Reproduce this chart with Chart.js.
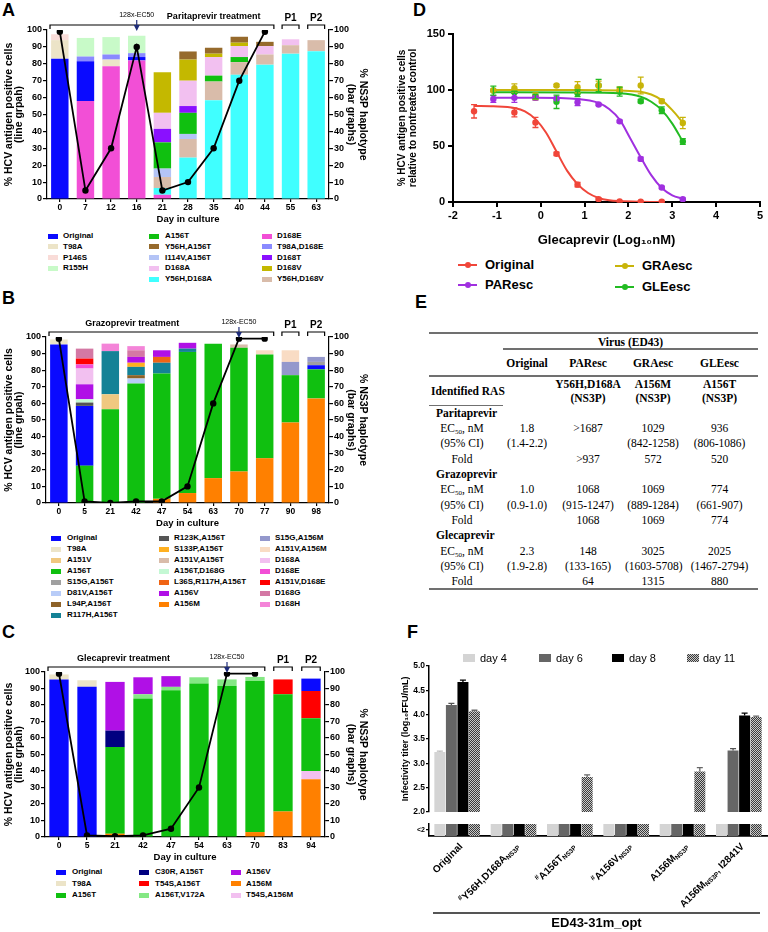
<!DOCTYPE html>
<html>
<head>
<meta charset="utf-8">
<title>NS3P haplotypes and glecaprevir susceptibility</title>
<script src="https://cdn.jsdelivr.net/npm/chart.js@4.4.1/dist/chart.umd.min.js"></script>
<style>
  body { margin: 0; background: #fff; }
  #page { position: relative; width: 768px; height: 932px; overflow: hidden; font-family: "Liberation Sans", Arial, sans-serif; color: #000; }
  #page canvas { position: absolute; }
  .tag { position: absolute; font-size: 18px; font-weight: bold; line-height: 18px; }
  .lg { position: absolute; font-size: 8px; font-weight: bold; line-height: 10px; white-space: nowrap; }
  .lg i { position: absolute; left: 0; top: 2.5px; width: 10px; height: 5px; }
  .dl { position: absolute; font-size: 13px; font-weight: bold; line-height: 14px; white-space: nowrap; padding-left: 27px; }
  .dl i { position: absolute; left: 0; top: 6px; width: 19px; height: 2px; }
  .dl b { position: absolute; left: 6.5px; top: 4px; width: 6px; height: 6px; border-radius: 50%; }
  .fl { position: absolute; font-size: 11px; line-height: 12px; white-space: nowrap; }
  .fl i { position: absolute; left: 0; top: 2px; width: 12px; height: 8px; }
  .rule { position: absolute; background: #707070; }
  #tabE { position: absolute; left: 429px; top: 334px; width: 329px; border-collapse: collapse; table-layout: fixed;
          font-family: "Liberation Serif", "Times New Roman", serif; font-size: 11.5px; }
  #tabE td { padding: 0; text-align: center; white-space: nowrap; line-height: 14px; }
  #tabE .hd { font-weight: bold; }
  #tabE .sec { font-weight: bold; text-align: left; padding-left: 7px; }
  #tabE .lab { padding-right: 8px; }
  #tabE tr.r { height: 15.33px; }
  #tabE sub { font-size: 7px; line-height: 0; vertical-align: -2px; }
</style>
</head>
<body>
<div id="page">
  <div class="tag" style="left:2px;top:1px">A</div>
  <div class="tag" style="left:2px;top:289px">B</div>
  <div class="tag" style="left:2px;top:623px">C</div>
  <div class="tag" style="left:413px;top:1px">D</div>
  <div class="tag" style="left:415px;top:293px">E</div>
  <div class="tag" style="left:407px;top:623px">F</div>

  <canvas id="chartA" width="380" height="230" style="left:0;top:0"></canvas>
  <canvas id="chartB" width="380" height="228" style="left:0;top:305px"></canvas>
  <canvas id="chartC" width="380" height="226" style="left:0;top:640px"></canvas>
  <canvas id="chartD" width="388" height="252" style="left:380px;top:0"></canvas>
  <canvas id="chartF" width="388" height="173" style="left:380px;top:645px"></canvas>
  <canvas id="chartF2" width="388" height="116" style="left:380px;top:816px"></canvas>

  <div id="legends"></div>

  <div class="dl" style="left:458px;top:258px;color:#000"><i style="background:#f0463a"></i><b style="background:#f0463a"></b>Original</div>
  <div class="dl" style="left:458px;top:278px"><i style="background:#a030e0"></i><b style="background:#a030e0"></b>PAResc</div>
  <div class="dl" style="left:615px;top:259px"><i style="background:#c8b40a"></i><b style="background:#c8b40a"></b>GRAesc</div>
  <div class="dl" style="left:615px;top:280px"><i style="background:#22bb22"></i><b style="background:#22bb22"></b>GLEesc</div>

  <div class="rule" style="left:429px;top:332px;width:329px;height:2px"></div>
  <div class="rule" style="left:503px;top:348px;width:255px;height:2px"></div>
  <div class="rule" style="left:429px;top:375px;width:329px;height:1.5px"></div>
  <div class="rule" style="left:429px;top:404.5px;width:74px;height:1px"></div>
  <div class="rule" style="left:429px;top:588px;width:329px;height:2px"></div>
  <table id="tabE">
    <colgroup><col style="width:74px"><col style="width:48px"><col style="width:74px"><col style="width:56px"><col style="width:77px"></colgroup>
    <tr style="height:15px"><td></td><td colspan="4" class="hd">Virus (ED43)</td></tr>
    <tr style="height:27px"><td></td><td class="hd">Original</td><td class="hd">PAResc</td><td class="hd">GRAesc</td><td class="hd">GLEesc</td></tr>
    <tr style="height:29px"><td class="hd" style="text-align:left;padding-left:2px">Identified RAS</td><td></td><td class="hd">Y56H,D168A<br>(NS3P)</td><td class="hd">A156M<br>(NS3P)</td><td class="hd">A156T<br>(NS3P)</td></tr>
    <tr class="r"><td class="sec">Paritaprevir</td><td></td><td></td><td></td><td></td></tr>
    <tr class="r"><td class="lab">EC<sub>50</sub>, nM</td><td>1.8</td><td>&gt;1687</td><td>1029</td><td>936</td></tr>
    <tr class="r"><td class="lab">(95% CI)</td><td>(1.4-2.2)</td><td></td><td>(842-1258)</td><td>(806-1086)</td></tr>
    <tr class="r"><td class="lab">Fold</td><td></td><td>&gt;937</td><td>572</td><td>520</td></tr>
    <tr class="r"><td class="sec">Grazoprevir</td><td></td><td></td><td></td><td></td></tr>
    <tr class="r"><td class="lab">EC<sub>50</sub>, nM</td><td>1.0</td><td>1068</td><td>1069</td><td>774</td></tr>
    <tr class="r"><td class="lab">(95% CI)</td><td>(0.9-1.0)</td><td>(915-1247)</td><td>(889-1284)</td><td>(661-907)</td></tr>
    <tr class="r"><td class="lab">Fold</td><td></td><td>1068</td><td>1069</td><td>774</td></tr>
    <tr class="r"><td class="sec">Glecaprevir</td><td></td><td></td><td></td><td></td></tr>
    <tr class="r"><td class="lab">EC<sub>50</sub>, nM</td><td>2.3</td><td>148</td><td>3025</td><td>2025</td></tr>
    <tr class="r"><td class="lab">(95% CI)</td><td>(1.9-2.8)</td><td>(133-165)</td><td>(1603-5708)</td><td>(1467-2794)</td></tr>
    <tr class="r"><td class="lab">Fold</td><td></td><td>64</td><td>1315</td><td>880</td></tr>
  </table>

  <div class="fl" style="left:463px;top:652px;padding-left:17px"><i style="background:#d4d4d4"></i>day 4</div>
  <div class="fl" style="left:539px;top:652px;padding-left:17px"><i style="background:#666"></i>day 6</div>
  <div class="fl" style="left:612px;top:652px;padding-left:17px"><i style="background:#000"></i>day 8</div>
  <div class="fl" style="left:687px;top:652px;padding-left:16px"><i style="background:repeating-conic-gradient(#3a3a3a 0 25%, #c8c8c8 0 50%) 0 0/2px 2px"></i>day 11</div>

  <div class="rule" style="left:433px;top:912px;width:327px;height:1.5px;background:#555"></div>
  <div style="position:absolute;left:433px;top:916px;width:327px;text-align:center;font-size:13px;font-weight:bold;line-height:14px">ED43-31m_opt</div>
</div>

<script>
// ---- A: paritaprevir escape (stack order bottom -> top) ----
const parDays = ['0', '7', '12', '16', '21', '28', '35', '40', '44', '55', '63'];
const parPositive = [99, 5, 30, 90, 5, 10, 30, 70, 99, null, null];
const parHaplotypes = ['D168E', 'Original', 'T98A', 'P146S', 'T98A,D168E', 'R155H', 'Y56H,D168A', 'Y56H,D168V',
  'I114V,A156T', 'A156T', 'D168T', 'D168A', 'D168V', 'Y56H,A156T'];
const parShares = [
  [0, 58, 78.5, 82, 2.5, 0, 0, 0, 0, 0, 0],
  [83, 23.5, 0, 2, 0, 0, 0, 0, 0, 0, 0],
  [11, 0, 4, 0, 0, 0, 0, 0, 0, 0, 0],
  [3.5, 0, 0, 0, 0, 0, 0, 0, 0, 0, 0],
  [0, 2.8, 3, 2.3, 0, 0, 0, 0, 0, 0, 0],
  [0, 11, 10.3, 10.3, 0, 0, 0, 0, 0, 0, 0],
  [0, 0, 0, 0, 4, 24.5, 58.5, 73.5, 79.5, 86, 87.5],
  [0, 0, 0, 0, 6.5, 11, 11, 7.5, 6, 5, 6.5],
  [0, 0, 0, 0, 5, 3, 0, 0, 0, 0, 0],
  [0, 0, 0, 0, 15.5, 12.5, 3.5, 3, 0, 0, 0],
  [0, 0, 0, 0, 8, 4, 0, 0, 0, 0, 0],
  [0, 0, 0, 0, 9.5, 15, 11, 6.5, 5, 3.5, 0],
  [0, 0, 0, 0, 24, 12.5, 2, 2, 0, 0, 0],
  [0, 0, 0, 0, 0, 4.8, 3.5, 3.5, 2.5, 0, 0]
];
const parLegend = [
  ['Original', 'T98A', 'P146S', 'R155H'],
  ['A156T', 'Y56H,A156T', 'I114V,A156T', 'D168A', 'Y56H,D168A'],
  ['D168E', 'T98A,D168E', 'D168T', 'D168V', 'Y56H,D168V']
];

// ---- B: grazoprevir escape ----
const graDays = ['0', '5', '21', '42', '47', '54', '63', '70', '77', '90', '98'];
const graPositive = [99, 1, 0, 1, 1, 10, 60, 99, 99, null, null];
const graHaplotypes = ['A156M', 'A156T', 'Original', 'T98A', 'R123K,A156T', 'A156T,D168G', 'A151V', 'D81V,A156T',
  'L94P,A156T', 'R117H,A156T', 'L36S,R117H,A156T', 'S133P,A156T', 'A156V', 'D168A', 'D168E', 'A151V,D168E',
  'D168G', 'D168H', 'A151V,A156T', 'S15G,A156T', 'S15G,A156M', 'A151V,A156M'];
const graShares = [
  [0, 0, 0, 0, 2.5, 6, 15, 19, 27, 48.5, 63],
  [0, 22.5, 56.5, 72, 75.5, 85, 81, 74.5, 62.5, 28.5, 17.5],
  [95.5, 36, 0, 0, 0, 0, 0, 0, 0, 0, 2.5],
  [3, 0, 0, 0, 0, 0, 0, 0, 0, 0, 0],
  [0, 2, 0, 0, 0, 0, 0, 0, 0, 0, 0],
  [0, 2, 0, 0, 0, 0, 0, 0, 0, 0, 0],
  [0, 0, 9, 0, 0, 0, 0, 0, 0, 0, 0],
  [0, 0, 0, 3, 0, 0, 0, 0, 0, 0, 0],
  [0, 0, 0, 2, 0, 0, 0, 0, 0, 0, 0],
  [0, 0, 26, 5, 6.5, 2, 0, 0, 0, 0, 0],
  [0, 0, 0, 0, 3.5, 0, 0, 0, 0, 0, 0],
  [0, 0, 0, 2.5, 0, 0, 0, 0, 0, 0, 0],
  [0, 9, 0, 3.5, 4, 3.5, 0, 0, 0, 0, 0],
  [0, 9.5, 0, 0, 0, 0, 0, 0, 0, 0, 0],
  [0, 2.5, 0, 0, 0, 0, 0, 0, 0, 0, 0],
  [0, 3.5, 0, 0, 0, 0, 0, 0, 0, 0, 0],
  [0, 6, 0, 4, 0, 0, 0, 0, 0, 0, 0],
  [0, 0, 4.5, 2.5, 0, 0, 0, 0, 0, 0, 0],
  [0, 0, 0, 0, 0, 0, 0, 2, 0, 0, 0],
  [0, 0, 0, 0, 0, 0, 0, 0, 0, 0, 2],
  [0, 0, 0, 0, 0, 0, 0, 0, 0, 8, 3],
  [0, 0, 0, 0, 0, 0, 0, 0, 2.5, 7, 0]
];
const graLegend = [
  ['Original', 'T98A', 'A151V', 'A156T', 'S15G,A156T', 'D81V,A156T', 'L94P,A156T', 'R117H,A156T'],
  ['R123K,A156T', 'S133P,A156T', 'A151V,A156T', 'A156T,D168G', 'L36S,R117H,A156T', 'A156V', 'A156M'],
  ['S15G,A156M', 'A151V,A156M', 'D168A', 'D168E', 'A151V,D168E', 'D168G', 'D168H']
];

// ---- C: glecaprevir escape ----
const gleDays = ['0', '5', '21', '42', '47', '54', '63', '70', '83', '94'];
const glePositive = [99, 1, 0.5, 1, 5, 30, 99, 99, null, null];
const gleHaplotypes = ['A156M', 'T54S,A156M', 'A156T', 'C30R, A156T', 'A156T,V172A', 'A156V', 'T54S,A156T', 'Original', 'T98A'];
const gleShares = [
  [0, 0, 2, 0, 0, 0, 0, 3, 15.5, 35],
  [0, 0, 0, 0, 0, 0, 0, 0, 0, 5],
  [0, 0, 52.5, 84, 89, 93, 91.5, 91.5, 71, 32],
  [0, 0, 10, 0, 0, 0, 0, 0, 0, 0],
  [0, 0, 0, 2.5, 2, 3.8, 4, 2.5, 0, 0],
  [0, 0, 29.5, 10.3, 6.5, 0, 0, 0, 0, 0],
  [0, 0, 0, 0, 0, 0, 0, 0, 9, 16.5],
  [95.5, 91, 0, 0, 0, 0, 0, 0, 0, 7.5],
  [3, 4, 0, 0, 0, 0, 0, 0, 0, 0]
];
const gleLegend = [
  ['Original', 'T98A', 'A156T'],
  ['C30R, A156T', 'T54S,A156T', 'A156T,V172A'],
  ['A156V', 'A156M', 'T54S,A156M']
];

// ---- D: glecaprevir dose response (x = log10 nM) ----
const origX = [-1.52, -0.6, -0.12, 0.36, 0.84, 1.32, 1.8, 2.28, 2.76];
const origY = [81, 80, 71, 43, 15.5, 2.5, 0.5, 0.2, 0.2];
const origErr = [6, 4, 4.5, 1.5, 2, 1, 0.5, 0.5, 0.5];
const origCurveX = [-1.52, -1.08, -0.6, -0.36, -0.12, 0.12, 0.36, 0.6, 0.84, 1.08, 1.32, 1.56, 1.8, 2.28, 2.76];
const origCurveY = [85.8, 85.5, 84, 81, 74, 62, 45, 28, 16, 8, 3.6, 1.6, 0.8, 0.2, 0];
const escX = [-1.08, -0.6, -0.12, 0.36, 0.84, 1.32, 1.8, 2.28, 2.76, 3.24];
const parescY = [92, 93, 93, 92.5, 89, 87, 72, 38.5, 13, 2.4];
const parescErr = [3, 4, 2, 1, 3, 1, 1, 1.5, 1, 1];
const parescCurveX = [-1.08, -0.12, 0.84, 1.32, 1.56, 1.8, 2.04, 2.28, 2.52, 2.76, 3.0, 3.24];
const parescCurveY = [93, 93, 92, 88.5, 83, 73.5, 57, 40, 24, 12.5, 6, 2.8];
const graescY = [99.5, 101.5, 94.5, 104, 102.5, 104, 100.5, 104, 90, 70.5];
const graescErr = [1, 4, 3, 1, 5, 4, 2, 7.5, 1.5, 5];
const lateCurveX = [-1.08, 0.84, 1.8, 2.28, 2.52, 2.76, 3.0, 3.24];
const graescCurveY = [100, 100, 99.5, 98.5, 96, 91, 82, 71];
const gleescY = [99.5, 98, 94, 89.5, 97, 104, 98.5, 90, 82, 54];
const gleescErr = [4, 1, 2, 6, 3, 5.5, 4, 1.5, 3, 2.5];
const gleescCurveY = [98, 97.8, 97, 94, 89.5, 82, 70, 54];

// ---- F: infectivity titers (null = below detection, <2) ----
const fLabels = [
  [['Original', '']],
  [['#', 'sup'], ['Y56H,D168A', ''], ['NS3P', 'sub']],
  [['#', 'sup'], ['A156T', ''], ['NS3P', 'sub']],
  [['#', 'sup'], ['A156V', ''], ['NS3P', 'sub']],
  [['A156M', ''], ['NS3P', 'sub']],
  [['A156M', ''], ['NS3P', 'sub'], [', I2841V', '']]
];
const fDays = ['day 4', 'day 6', 'day 8', 'day 11'];
const fDay4 = [3.23, null, null, null, null, null];
const fDay6 = [4.2, null, null, null, null, 3.26];
const fDay8 = [4.67, null, null, null, null, 3.98];
const fDay11 = [4.07, null, 2.72, null, 2.83, 3.95];
const fDay4Err = [0.02, null, null, null, null, null];
const fDay6Err = [0.03, null, null, null, null, 0.04];
const fDay8Err = [0.04, null, null, null, null, 0.05];
const fDay11Err = [0.02, null, 0.04, null, 0.08, 0.02];
const fBreakStrip = [1, 1, 1, 1, 1, 1];

const haploColors = {
  'Original': '#0a0aff', 'T98A': '#ece4c8', 'P146S': '#f9dcd8', 'R155H': '#c8fac8',
  'A156T': '#10c010', 'Y56H,A156T': '#966a2c', 'I114V,A156T': '#b4c4f6', 'D168A': '#f2c0f0',
  'Y56H,D168A': '#40ffff', 'D168E': '#f24fd6', 'T98A,D168E': '#8a8aff', 'D168T': '#8a10ff',
  'D168V': '#c4b800', 'Y56H,D168V': '#d9bcaa',
  'A151V': '#f0c880', 'S15G,A156T': '#a0a0a0', 'D81V,A156T': '#b8ccf8', 'L94P,A156T': '#8e6228',
  'R117H,A156T': '#148296', 'R123K,A156T': '#555555', 'S133P,A156T': '#ffb020', 'A151V,A156T': '#d9bcaa',
  'A156T,D168G': '#c4f8d4', 'L36S,R117H,A156T': '#f06414', 'A156V': '#b010e6', 'A156M': '#ff8000',
  'S15G,A156M': '#9498cc', 'A151V,A156M': '#f9dcc4', 'D168G': '#d478a4', 'D168H': '#f484d8',
  'A151V,D168E': '#ff0000', 'C30R, A156T': '#000080', 'T54S,A156T': '#ff0000', 'A156T,V172A': '#84e884',
  'T54S,A156M': '#f2c0f0'
};

Chart.defaults.font.family = '"Liberation Sans", Arial, sans-serif';
Chart.defaults.color = '#000';
Chart.defaults.animation = false;
Chart.defaults.plugins.legend.display = false;
Chart.defaults.plugins.tooltip.enabled = false;

function bracket(ctx, x0, x1, y) {
  ctx.beginPath();
  ctx.moveTo(x0, y + 4); ctx.lineTo(x0, y); ctx.lineTo(x1, y); ctx.lineTo(x1, y + 4);
  ctx.stroke();
}

// treatment bracket, P1/P2 and the 128x-EC50 arrow above the bars
const treatPlugin = {
  id: 'treat',
  afterDraw(chart, args, o) {
    if (!o || !o.label) return;
    const ctx = chart.ctx, xs = chart.scales.x, top = chart.chartArea.top;
    const step = xs.getPixelForValue(1) - xs.getPixelForValue(0);
    const by = top - 5;
    ctx.save();
    ctx.strokeStyle = '#000';
    ctx.lineWidth = 1.2;
    ctx.fillStyle = '#000';
    ctx.textAlign = 'center';
    ctx.textBaseline = 'middle';
    bracket(ctx, chart.chartArea.left + 3, xs.getPixelForValue(o.treatEnd) + step * 0.35, by);
    ctx.font = 'bold 9px "Liberation Sans", Arial';
    ctx.fillText(o.label, xs.getPixelForValue(o.textAt), by - 8);
    ctx.font = 'bold 10px "Liberation Sans", Arial';
    o.passages.forEach((p, k) => {
      const c = xs.getPixelForValue(o.treatEnd + 1 + k);
      bracket(ctx, c - step * 0.33, c + step * 0.33, by);
      ctx.fillText(p, c, by - 7);
    });
    const ax = xs.getPixelForValue(o.arrowAt);
    ctx.font = '7px "Liberation Sans", Arial';
    ctx.fillText('128x-EC50', ax, top - 15);
    ctx.strokeStyle = ctx.fillStyle = '#1f2d7a';
    ctx.beginPath(); ctx.moveTo(ax, top - 10); ctx.lineTo(ax, top - 4); ctx.stroke();
    ctx.beginPath(); ctx.moveTo(ax - 3, top - 5); ctx.lineTo(ax + 3, top - 5); ctx.lineTo(ax, top + 1); ctx.closePath(); ctx.fill();
    ctx.restore();
  }
};

// error bars for datasets that carry an `errors` array
const errPlugin = {
  id: 'errbars',
  afterDatasetsDraw(chart) {
    const ctx = chart.ctx;
    chart.data.datasets.forEach((ds, i) => {
      if (!ds.errors) return;
      const meta = chart.getDatasetMeta(i);
      const ys = chart.scales[meta.yAxisID];
      ctx.save();
      ctx.strokeStyle = ds.errColor || ds.borderColor;
      ctx.lineWidth = 1.3;
      meta.data.forEach((el, j) => {
        const e = ds.errors[j];
        const raw = ds.data[j];
        const v = raw !== null && typeof raw === 'object' ? raw.y : raw;
        if (e == null || v == null) return;
        const x = el.x, yTop = ys.getPixelForValue(v + e);
        const yBot = ds.errUpOnly ? el.y : ys.getPixelForValue(v - e);
        ctx.beginPath();
        ctx.moveTo(x, yBot); ctx.lineTo(x, yTop);
        ctx.moveTo(x - 3, yTop); ctx.lineTo(x + 3, yTop);
        if (!ds.errUpOnly) { ctx.moveTo(x - 3, yBot); ctx.lineTo(x + 3, yBot); }
        ctx.stroke();
      });
      ctx.restore();
    });
  }
};
Chart.register(treatPlugin, errPlugin);

const axisLine = { color: '#000', width: 1.2 };
const tickMarks = { drawOnChartArea: false, color: '#000', lineWidth: 1.2, tickLength: 4 };

function haploChart(id, days, names, shares, positive, notes, box) {
  const canvas = document.getElementById(id);
  const W = canvas.width, H = canvas.height;
  const bars = names.map((n, k) => ({
    type: 'bar', label: n, data: shares[k], backgroundColor: haploColors[n],
    yAxisID: 'y2', stack: 'hap', order: 1, barPercentage: box.barPct, categoryPercentage: 1
  }));
  const line = {
    type: 'line', label: '% antigen positive', data: positive, yAxisID: 'y', order: 0,
    borderColor: '#000', borderWidth: 1.8, pointRadius: 3.2, pointBackgroundColor: '#000', pointBorderWidth: 0
  };
  const tickFont = { size: 9, weight: 'bold' };
  return new Chart(canvas, {
    type: 'bar',
    data: { labels: days, datasets: [line, ...bars] },
    options: {
      responsive: false,
      layout: { padding: { top: box.top, left: 0, right: 0, bottom: 0 } },
      plugins: { treat: notes },
      scales: {
        x: {
          stacked: true, offset: true,
          grid: { ...tickMarks, offset: false, tickLength: 3 }, border: axisLine,
          ticks: { font: { size: 8.5, weight: 'bold' }, padding: 1, maxRotation: 0 },
          title: { display: true, text: 'Day in culture', font: { size: 9.5, weight: 'bold' }, padding: { top: 0, bottom: box.titlePad } },
          afterFit: s => { s.height = H - box.bottom; }
        },
        y: {
          position: 'left', min: 0, max: 100,
          ticks: { stepSize: 10, font: tickFont, padding: 1 }, grid: tickMarks, border: axisLine,
          title: { display: true, text: ['% HCV antigen positive cells', '(line grpah)'],
                   font: { size: 10.5, weight: 'bold', lineHeight: 0.95 }, padding: { top: 4, bottom: 0 } },
          afterFit: s => { s.width = box.left; }
        },
        y2: {
          position: 'right', stacked: true, min: 0, max: 100,
          ticks: { stepSize: 10, font: tickFont, padding: 1 }, grid: tickMarks, border: axisLine,
          title: { display: true, text: ['% NS3P haplotype', '(bar graphs)'],
                   font: { size: 10.5, weight: 'bold', lineHeight: 1.15 }, padding: { top: 11, bottom: 0 } },
          afterFit: s => { s.width = W - box.right; }
        }
      }
    }
  });
}

function haploLegend(cols, colX, textX, rowY, rowStep) {
  const host = document.getElementById('legends');
  cols.forEach((col, c) => col.forEach((name, r) => {
    const d = document.createElement('div');
    d.className = 'lg';
    d.style.left = colX[c] + 'px';
    d.style.top = (rowY + r * rowStep - 5) + 'px';
    d.style.paddingLeft = textX[c] + 'px';
    d.innerHTML = '<i style="background:' + haploColors[name] + '"></i>';
    d.appendChild(document.createTextNode(name));
    host.appendChild(d);
  }));
}

haploChart('chartA', parDays, parHaplotypes, parShares, parPositive,
  { label: 'Paritaprevir treatment', textAt: 6, arrowAt: 3, treatEnd: 8, passages: ['P1', 'P2'] },
  { top: 30, bottom: 199, left: 47, right: 329, titlePad: 5.3, barPct: 0.68 });
haploChart('chartB', graDays, graHaplotypes, graShares, graPositive,
  { label: 'Grazoprevir treatment', textAt: 2.85, arrowAt: 7, treatEnd: 8, passages: ['P1', 'P2'] },
  { top: 32, bottom: 198, left: 46, right: 329, titlePad: 4.3, barPct: 0.68 });
haploChart('chartC', gleDays, gleHaplotypes, gleShares, glePositive,
  { label: 'Glecaprevir treatment', textAt: 2.3, arrowAt: 6, treatEnd: 7, passages: ['P1', 'P2'] },
  { top: 32, bottom: 197, left: 45, right: 325, titlePad: 2.6, barPct: 0.69 });

haploLegend(parLegend, [48, 149, 262], [15, 16, 15], 236, 10.8);
haploLegend(graLegend, [51, 159, 260], [16, 15, 15], 538, 11);
haploLegend(gleLegend, [56, 139, 231], [16, 16, 15], 872, 11.7);

// ---- D ----
const dSeries = [
  { name: 'Original', color: '#f0463a', x: origX, y: origY, err: origErr, cx: origCurveX, cy: origCurveY },
  { name: 'PAResc', color: '#a030e0', x: escX, y: parescY, err: parescErr, cx: parescCurveX, cy: parescCurveY },
  { name: 'GRAesc', color: '#c8b40a', x: escX, y: graescY, err: graescErr, cx: lateCurveX, cy: graescCurveY },
  { name: 'GLEesc', color: '#22bb22', x: escX, y: gleescY, err: gleescErr, cx: lateCurveX, cy: gleescCurveY }
];
const dSets = [];
dSeries.forEach(s => {
  dSets.push({
    label: s.name + ' fit', data: s.cx.map((x, i) => ({ x, y: s.cy[i] })), showLine: true,
    borderColor: s.color, borderWidth: 2, pointRadius: 0, cubicInterpolationMode: 'monotone'
  });
});
dSeries.forEach(s => {
  dSets.push({
    label: s.name, data: s.x.map((x, i) => ({ x, y: s.y[i] })), showLine: false,
    borderColor: s.color, backgroundColor: s.color, pointRadius: 3.2, pointBorderWidth: 0, errors: s.err
  });
});
const dTick = { size: 11, weight: 'bold' };
const dGrid = { drawOnChartArea: false, color: '#000', lineWidth: 2, tickLength: 5 };
new Chart(document.getElementById('chartD'), {
  type: 'line',
  data: { datasets: dSets },
  options: {
    responsive: false,
    layout: { padding: { top: 34, right: 8, left: 0, bottom: 0 } },
    scales: {
      x: {
        type: 'linear', min: -2, max: 5,
        ticks: { stepSize: 1, font: dTick, padding: 2 }, grid: dGrid, border: { color: '#000', width: 2 },
        title: { display: true, text: 'Glecaprevir (Log₁₀nM)', font: { size: 13, weight: 'bold' }, padding: { top: 0, bottom: 4 } },
        afterFit: s => { s.height = 50; }
      },
      y: {
        min: 0, max: 150,
        ticks: { stepSize: 50, font: dTick, padding: 3 }, grid: dGrid, border: { color: '#000', width: 2 },
        title: { display: true, text: ['% HCV antigen positive cells', 'relative to nontreated control'],
                 font: { size: 10, weight: 'bold', lineHeight: 1.1 }, padding: { top: 17, bottom: 0 } },
        afterFit: s => { s.width = 73; }
      }
    }
  }
});

// ---- F ----
function checker() {
  const c = document.createElement('canvas');
  c.width = c.height = 2;
  const g = c.getContext('2d');
  g.fillStyle = '#c8c8c8'; g.fillRect(0, 0, 2, 2);
  g.fillStyle = '#3a3a3a'; g.fillRect(0, 0, 1, 1); g.fillRect(1, 1, 1, 1);
  return g.createPattern(c, 'repeat');
}
const fFill = ['#d4d4d4', '#666666', '#000000', checker()];
const fErrColor = ['#bdbdbd', '#555555', '#000000', '#666666'];
const fTiters = [fDay4, fDay6, fDay8, fDay11];
const fErrs = [fDay4Err, fDay6Err, fDay8Err, fDay11Err];
const fPlain = fLabels.map(segs => segs.map(s => s[0]).join(''));

new Chart(document.getElementById('chartF'), {
  type: 'bar',
  data: {
    labels: fPlain,
    datasets: fDays.map((d, k) => ({
      label: d, data: fTiters[k], backgroundColor: fFill[k], errors: fErrs[k], errUpOnly: true,
      errColor: fErrColor[k], barPercentage: 0.95, categoryPercentage: 0.82
    }))
  },
  options: {
    responsive: false,
    layout: { padding: { top: 21, right: 1, left: 0, bottom: 2 } },
    scales: {
      x: { display: false },
      y: {
        min: 2, max: 5,
        ticks: { stepSize: 0.5, font: { size: 8.5, weight: 'bold' }, padding: 1, callback: v => v.toFixed(1) },
        grid: { drawOnChartArea: false, color: '#000', lineWidth: 1.2, tickLength: 3 }, border: { color: '#000', width: 1.5 },
        title: { display: true, text: 'Infectivity titer (log₁₀FFU/mL)', font: { size: 9, weight: 'bold' }, padding: { top: 20, bottom: 0 } },
        afterFit: s => { s.width = 49; }
      }
    }
  }
});

// broken-axis strip holding the "<2" stubs and the rotated group labels
const fLabelPlugin = {
  id: 'flabels',
  afterDraw(chart) {
    const ctx = chart.ctx, xs = chart.scales.x, y0 = chart.chartArea.bottom + 9;
    const fonts = { '': 'bold 10px "Liberation Sans", Arial', sup: 'bold 7px "Liberation Sans", Arial', sub: 'bold 6.5px "Liberation Sans", Arial' };
    fLabels.forEach((segs, i) => {
      ctx.save();
      ctx.translate(xs.getPixelForValue(i) + 4, y0);
      ctx.rotate(-Math.PI / 4);
      ctx.fillStyle = '#000';
      ctx.textBaseline = 'middle';
      let total = 0;
      segs.forEach(([t, k]) => { ctx.font = fonts[k]; total += ctx.measureText(t).width; });
      let cx = -total;
      segs.forEach(([t, k]) => {
        ctx.font = fonts[k];
        ctx.fillText(t, cx, k === 'sup' ? -3 : k === 'sub' ? 2.5 : 0);
        cx += ctx.measureText(t).width;
      });
      ctx.restore();
    });
  }
};
new Chart(document.getElementById('chartF2'), {
  type: 'bar',
  data: {
    labels: fPlain,
    datasets: fDays.map((d, k) => ({
      label: d, data: fBreakStrip, backgroundColor: fFill[k], barPercentage: 0.95, categoryPercentage: 0.82
    }))
  },
  options: {
    responsive: false,
    layout: { padding: { top: 8, right: 1, left: 0, bottom: 96 } },
    scales: {
      x: { grid: { display: false }, ticks: { display: false }, border: { color: '#000', width: 1.8 }, afterFit: s => { s.height = 0; } },
      y: {
        min: 0, max: 1,
        afterBuildTicks: s => { s.ticks = [{ value: 0.5 }]; },
        ticks: { font: { size: 7, weight: 'bold' }, padding: 1, callback: () => '<2' },
        grid: { drawOnChartArea: false, color: '#000', lineWidth: 1.2, tickLength: 3 }, border: { color: '#000', width: 1.5 },
        afterFit: s => { s.width = 49; }
      }
    }
  },
  plugins: [fLabelPlugin]
});
</script>
</body>
</html>
